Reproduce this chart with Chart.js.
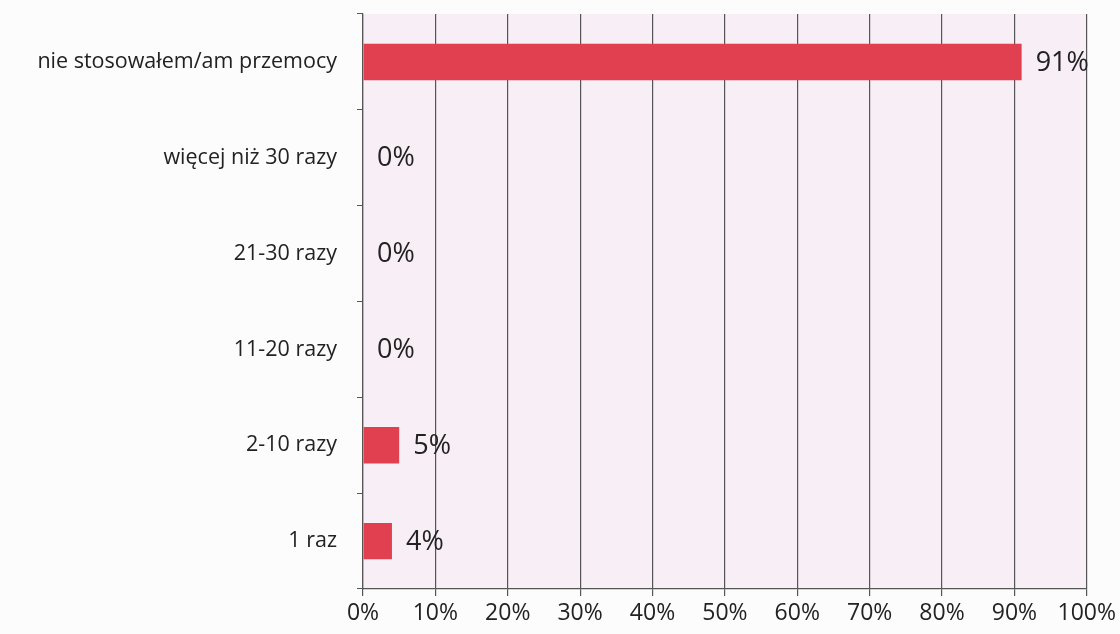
<!DOCTYPE html>
<html>
<head>
<meta charset="utf-8">
<script src="https://cdn.jsdelivr.net/npm/chart.js@4"></script>
<style>
  html, body { margin: 0; padding: 0; background: #fdfcfd; }
  #wrap { width: 1120px; height: 634px; }
</style>
</head>
<body>
<div id="wrap"><canvas id="chart"></canvas></div>
<script>
const categories = ['nie stosowałem/am przemocy', 'więcej niż 30 razy', '21-30 razy', '11-20 razy', '2-10 razy', '1 raz'];
const values = [91, 0, 0, 0, 5, 4];
const xTicks = [0, 10, 20, 30, 40, 50, 60, 70, 80, 90, 100];

const FONT = 'Open Sans, Liberation Sans, sans-serif';

// fill the plot area with the faint pink tint of the original
const plotBg = {
    id: 'plotBg',
    beforeDraw(chart) {
        const { ctx, chartArea: a } = chart;
        ctx.save();
        ctx.fillStyle = '#f7eef6';
        ctx.fillRect(a.left, a.top, a.right - a.left, a.bottom - a.top);
        ctx.restore();
    }
};

// value labels to the right of each bar
const valueLabels = {
    id: 'valueLabels',
    afterDatasetsDraw(chart) {
        const { ctx } = chart;
        const meta = chart.getDatasetMeta(0);
        ctx.save();
        ctx.font = '27px ' + FONT;
        ctx.fillStyle = '#222';
        ctx.textBaseline = 'middle';
        ctx.textAlign = 'left';
        meta.data.forEach((bar, i) => {
            ctx.fillText(values[i] + '%', bar.x + 14, bar.y + 1);
        });
        ctx.restore();
    }
};

new Chart(document.getElementById('chart'), {
    type: 'bar',
    data: {
        labels: categories,
        datasets: [{
            data: values,
            backgroundColor: '#e0404f',
            borderWidth: 0,
            barPercentage: 0.76,
            categoryPercentage: 0.5,
        }]
    },
    options: {
        indexAxis: 'y',
        responsive: true,
        maintainAspectRatio: false,
        animation: false,
        layout: { padding: { top: 14, right: 0, left: 0, bottom: 0 } },
        plugins: {
            legend: { display: false },
            tooltip: { enabled: false },
        },
        scales: {
            x: {
                min: 0,
                max: 100,
                afterFit: (s) => { s.height = 45; },
                afterBuildTicks: (s) => { s.ticks = xTicks.map(v => ({ value: v })); },
                grid: {
                    color: '#555',
                    lineWidth: 1.2,
                    tickLength: 7,
                },
                border: { color: '#555', width: 1.2 },
                ticks: {
                    callback: (v) => v + '%',
                    font: { size: 23, family: FONT },
                    color: '#222',
                    padding: 4,
                    maxRotation: 0,
                },
            },
            y: {
                afterFit: (s) => { s.width = 363; s.paddingTop = 0; s.paddingBottom = 0; },
                grid: {
                    drawOnChartArea: false,
                    color: '#555',
                    tickLength: 6,
                    offset: true,
                },
                border: { color: '#555', width: 1.2 },
                ticks: {
                    font: { size: 21.5, family: FONT },
                    color: '#222',
                    padding: 20,
                },
            },
        }
    },
    plugins: [plotBg, valueLabels]
});
</script>
</body>
</html>
